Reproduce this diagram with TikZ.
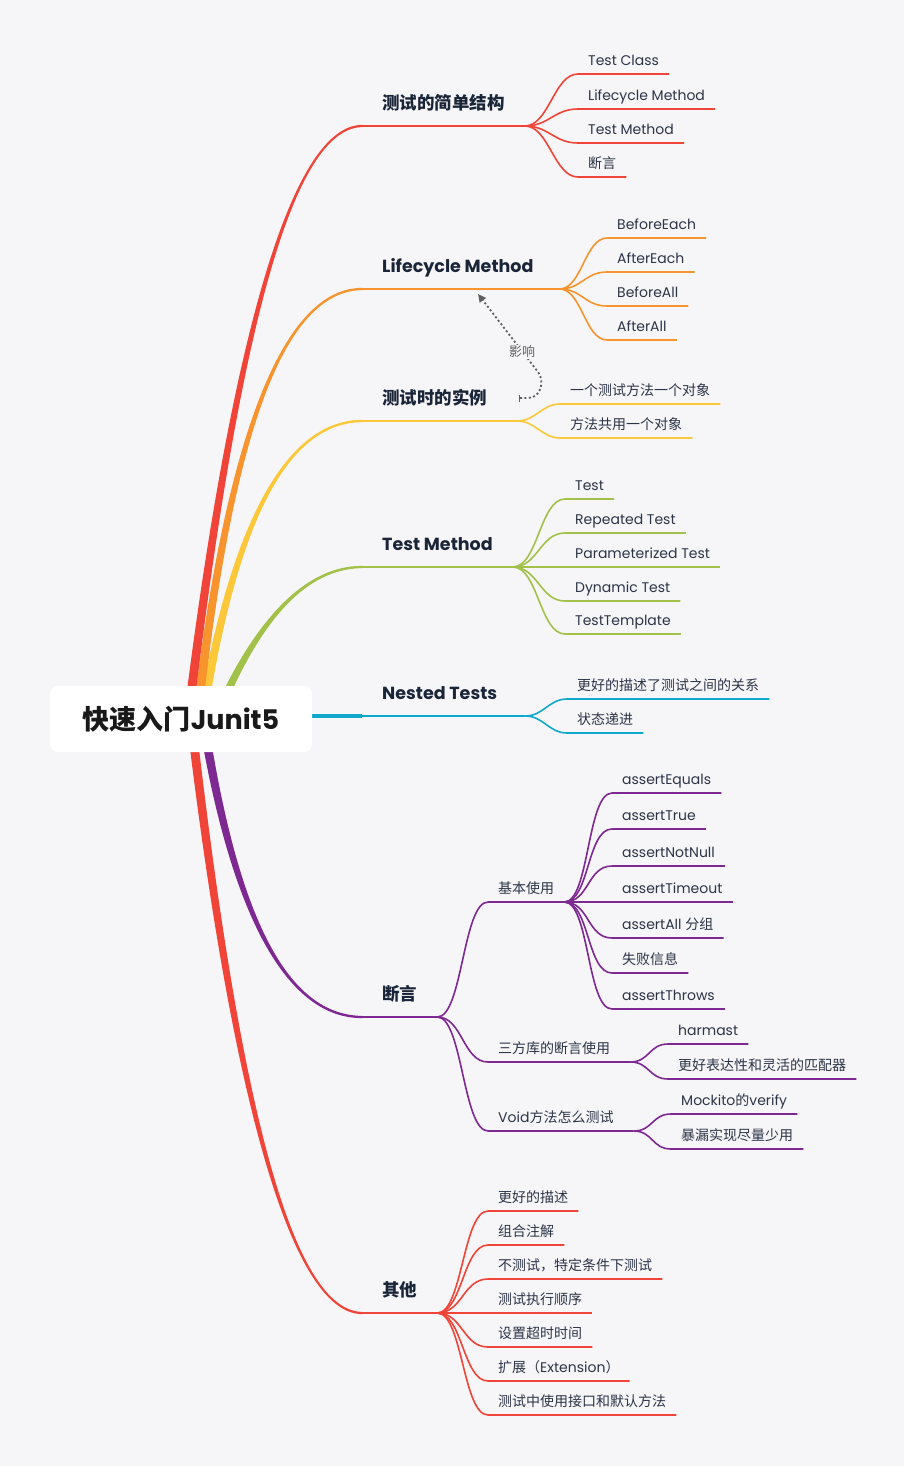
\documentclass[tikz,border=0pt]{standalone}
\usepackage{fontspec}
\setmainfont{Poppins}
\newfontfamily\cjk{Noto Sans CJK SC}
\usetikzlibrary{arrows.meta,calc}

\definecolor{bg}{RGB}{246,246,249}
\definecolor{cred}{RGB}{240,68,56}
\definecolor{corange}{RGB}{247,148,46}
\definecolor{cyellow}{RGB}{252,200,58}
\definecolor{cgreen}{RGB}{162,193,72}
\definecolor{cblue}{RGB}{16,167,204}
\definecolor{cpurple}{RGB}{126,40,146}
\definecolor{tdark}{RGB}{27,37,56}
\definecolor{tnorm}{RGB}{44,52,70}
\definecolor{lgray}{RGB}{95,95,95}

\newcommand\mytrunk[5]{%
  \pgfmathsetmacro\tPax{#2+2/3*(#3-#2)}%
  \pgfmathsetmacro\tPay{719+2/3*(#4-719)}%
  \pgfmathsetmacro\tPbx{362+2/3*(#3-362)}%
  \pgfmathsetmacro\tYa{#4-#5*1.1}%
  \pgfmathsetmacro\tYb{#4+#5*1.1}%
  \fill[#1] (#2-4.6,719) .. controls (\tPax-3.4,\tPay) and (\tPbx,\tYa-#5*0.6) .. (362.5,\tYa) -- (362.5,\tYb) .. controls (\tPbx,\tYb+#5*0.6) and (\tPax+3.4,\tPay) .. (#2+4.6,719) -- cycle;}

\begin{document}
\begin{tikzpicture}[x=1pt,y=-1pt,
  mainlbl/.style={anchor=south west, inner xsep=20pt, inner ysep=0pt, text height=14pt, text depth=16.5pt, text=tdark, font=\fontsize{17.5}{20}\selectfont\bfseries},
  sublbl/.style={anchor=south west, inner xsep=10pt, inner ysep=0pt, text height=11pt, text depth=8.5pt, text=tnorm, font=\fontsize{14}{16}\selectfont},
  mainline/.style={line width=2pt},
  subline/.style={line width=1.6pt}
]
\fill[bg] (0,0) rectangle (904,1466);
\useasboundingbox (0,0) rectangle (904,1466);

% ---- trunks
\mytrunk{cgreen}{215}{279}{567}{1}
\mytrunk{cyellow}{202}{250}{421}{1}
\mytrunk{corange}{197}{245}{289}{1}
\mytrunk{cred}{188}{260}{126}{1}
\mytrunk{cpurple}{203}{250}{1017}{-1}
\mytrunk{cred}{191}{260}{1313}{-1}
\coordinate (bstart) at (250,716);
\coordinate (bend) at (362,716);
\draw[cblue, line width=3.8pt] (bstart) -- (bend);

% ---- main labels
\node[mainlbl] (m1) at (362,126) {\cjk 测试的简单结构};
\node[mainlbl] (m2) at (362,289) {Lifecycle Method};
\node[mainlbl] (m3) at (362,421) {\cjk 测试时的实例};
\node[mainlbl] (m4) at (362,567) {Test Method};
\node[mainlbl] (m5) at (362,716) {Nested Tests};
\node[mainlbl] (m6) at (362,1017) {\cjk 断言};
\node[mainlbl] (m7) at (362,1313) {\cjk 其他};

\coordinate (f1) at (m1.south east);
\coordinate (f2) at ($(m2.south east)+(6,0)$);
\coordinate (f3) at ($(m3.south east)+(10,0)$);
\coordinate (f4) at (m4.south east);
\coordinate (f5) at ($(m5.south east)+(8,0)$);
\coordinate (f6) at (m6.south east);
\coordinate (f7) at (m7.south east);

\draw[mainline,cred] (m1.south west) -- (f1);
\draw[mainline,corange] (m2.south west) -- (f2);
\draw[mainline,cyellow] (m3.south west) -- (f3);
\draw[mainline,cgreen] (m4.south west) -- (f4);
\draw[mainline,cblue] (m5.south west) -- (f5);
\draw[mainline,cpurple] (m6.south west) -- (f6);
\draw[mainline,cred] (m7.south west) -- (f7);

% ---- branch 1
\node[sublbl] (c11) at (578,74) {Test Class};
\node[sublbl] (c12) at (578,109) {Lifecycle Method};
\node[sublbl] (c13) at (578,143) {Test Method};
\node[sublbl] (c14) at (578,177) {\cjk 断言};
\foreach \n in {c11,c12,c13,c14}
  \draw[subline,cred] (f1) .. controls +(24,0) and +(-24,0) .. (\n.south west) -- (\n.south east);

% ---- branch 2
\node[sublbl] (c21) at (607,238) {BeforeEach};
\node[sublbl] (c22) at (607,272) {AfterEach};
\node[sublbl] (c23) at (607,306) {BeforeAll};
\node[sublbl] (c24) at (607,340) {AfterAll};
\foreach \n in {c21,c22,c23,c24}
  \draw[subline,corange] (f2) .. controls +(22,0) and +(-22,0) .. (\n.south west) -- (\n.south east);

% ---- branch 3
\node[sublbl] (c31) at (560,404) {\cjk 一个测试方法一个对象};
\node[sublbl] (c32) at (560,438) {\cjk 方法共用一个对象};
\foreach \n in {c31,c32}
  \draw[subline,cyellow] (f3) .. controls +(18,0) and +(-18,0) .. (\n.south west) -- (\n.south east);

% ---- branch 4
\node[sublbl] (c41) at (565,499) {Test};
\node[sublbl] (c42) at (565,533) {Repeated Test};
\node[sublbl] (c43) at (565,567) {Parameterized Test};
\node[sublbl] (c44) at (565,601) {Dynamic Test};
\node[sublbl] (c45) at (565,634) {TestTemplate};
\foreach \n in {c41,c42,c43,c44,c45}
  \draw[subline,cgreen] (f4) .. controls +(25,0) and +(-25,0) .. (\n.south west) -- (\n.south east);

% ---- branch 5
\node[sublbl] (c51) at (567,699) {\cjk 更好的描述了测试之间的关系};
\node[sublbl] (c52) at (567,733) {\cjk 状态递进};
\foreach \n in {c51,c52}
  \draw[subline,cblue] (f5) .. controls +(18,0) and +(-18,0) .. (\n.south west) -- (\n.south east);

% ---- branch 6
\node[sublbl] (s1) at (488,902) {\cjk 基本使用};
\node[sublbl] (s2) at (488,1062) {\cjk 三方库的断言使用};
\node[sublbl] (s3) at (488,1131) {Void{\cjk 方法怎么测试}};
\coordinate (g1) at (s1.south east);
\coordinate (g2) at ($(s2.south east)+(10,0)$);
\coordinate (g3) at ($(s3.south east)+(10,0)$);
\draw[subline,cpurple] (f6) .. controls +(25,0) and +(-25,0) .. (s1.south west) -- (g1);
\draw[subline,cpurple] (f6) .. controls +(25,0) and +(-25,0) .. (s2.south west) -- (g2);
\draw[subline,cpurple] (f6) .. controls +(25,0) and +(-25,0) .. (s3.south west) -- (g3);

\node[sublbl] (a1) at (612,793) {assertEquals};
\node[sublbl] (a2) at (612,829) {assertTrue};
\node[sublbl] (a3) at (612,866) {assertNotNull};
\node[sublbl] (a4) at (612,902) {assertTimeout};
\node[sublbl] (a5) at (612,938) {assertAll {\cjk 分组}};
\node[sublbl] (a6) at (612,973) {\cjk 失败信息};
\node[sublbl] (a7) at (612,1009) {assertThrows};
\foreach \n in {a1,a2,a3,a4,a5,a6,a7}
  \draw[subline,cpurple] (g1) .. controls +(25,0) and +(-25,0) .. (\n.south west) -- (\n.south east);

\node[sublbl] (b1) at (668,1044) {harmast};
\node[sublbl] (b2) at (668,1079) {\cjk 更好表达性和灵活的匹配器};
\foreach \n in {b1,b2}
  \draw[subline,cpurple] (g2) .. controls +(19,0) and +(-19,0) .. (\n.south west) -- (\n.south east);

\node[sublbl] (d1) at (671,1114) {Mockito{\cjk 的}verify};
\node[sublbl] (d2) at (671,1149) {\cjk 暴漏实现尽量少用};
\foreach \n in {d1,d2}
  \draw[subline,cpurple] (g3) .. controls +(19,0) and +(-19,0) .. (\n.south west) -- (\n.south east);

% ---- branch 7
\node[sublbl] (e1) at (488,1211) {\cjk 更好的描述};
\node[sublbl] (e2) at (488,1245) {\cjk 组合注解};
\node[sublbl] (e3) at (488,1279) {\cjk 不测试，特定条件下测试};
\node[sublbl] (e4) at (488,1313) {\cjk 测试执行顺序};
\node[sublbl] (e5) at (488,1347) {\cjk 设置超时时间};
\node[sublbl] (e6) at (488,1381) {{\cjk 扩展（}Extension{\cjk ）}};
\node[sublbl] (e7) at (488,1415) {\cjk 测试中使用接口和默认方法};
\foreach \n in {e1,e2,e3,e4,e5,e6,e7}
  \draw[subline,cred] (f7) .. controls +(25,0) and +(-25,0) .. (\n.south west) -- (\n.south east);

% ---- relation arrow
\coordinate (arrS) at (519,398);
\coordinate (arrE) at (478,294);
\draw[lgray, line width=1.8pt, dash pattern=on 2pt off 2.4pt,
  {Bar[width=7pt,line width=1.4pt]}-{Triangle[length=8pt,width=7.5pt]}]
  (arrS) -- (528,398) .. controls (541,398) and (545,381) .. (538,372) -- (arrE);
\node[fill=bg, text=lgray, font=\cjk\fontsize{13}{15}\selectfont, inner sep=1pt] (lab) at (522,352) {影响};

% ---- root
\node[fill=white, rounded corners=8pt, minimum width=262pt, minimum height=66pt, inner sep=0pt,
  text=black!90, font=\fontsize{27}{30}\selectfont\bfseries] (root) at (181,719) {{\cjk 快速入门}Junit5};
\end{tikzpicture}
\end{document}
